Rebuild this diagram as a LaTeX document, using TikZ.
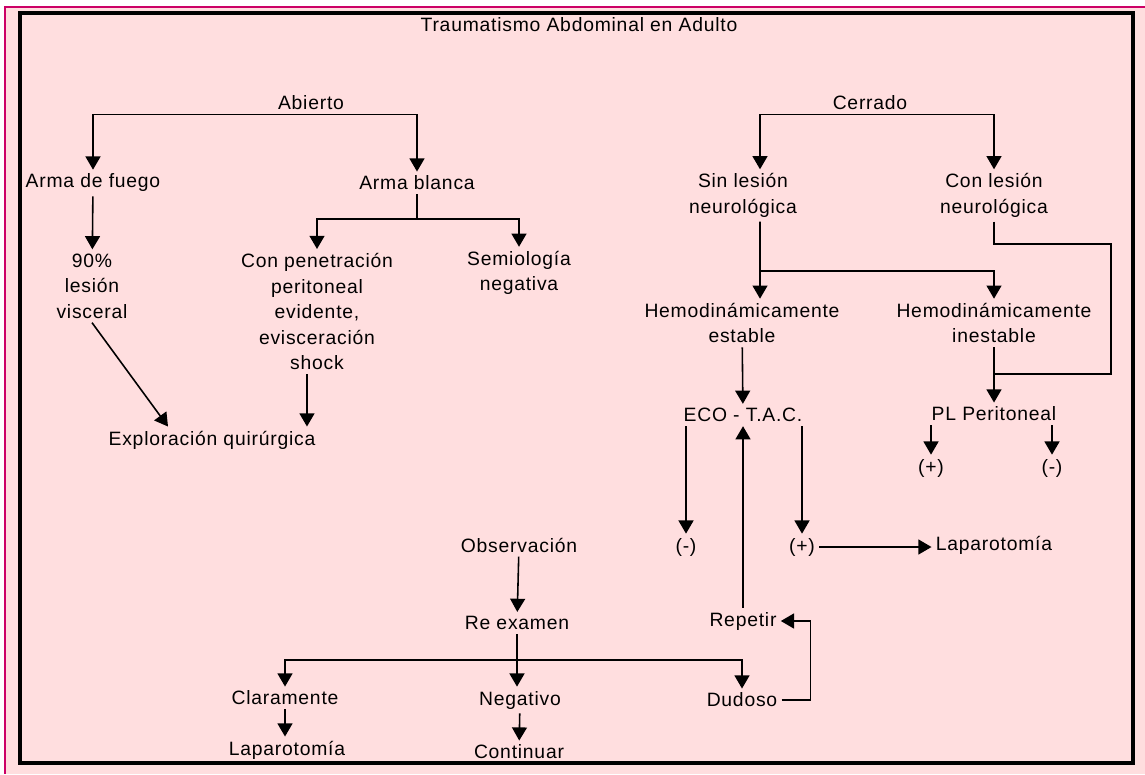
\documentclass[tikz,border=0pt]{standalone}
\usepackage{fontspec}
\setmainfont{Liberation Sans}[LetterSpace=4]
\usepackage{tikz}
\usetikzlibrary{arrows.meta}
\definecolor{bgpink}{RGB}{255,222,223}
\definecolor{edgemag}{RGB}{204,0,102}

\begin{document}
\begin{tikzpicture}[
    x=0.02cm, y=-0.02cm,
    lbl/.style={align=center, inner xsep=0.08cm, inner ysep=0.08cm,
                font=\fontsize{11}{14.5}\selectfont},
    arr/.style={-{Triangle[length=7.5pt, width=8.5pt]}, line width=0.9pt},
    link/.style={line width=0.9pt},
]
\useasboundingbox (0,0) rectangle (1145,774);

% Background and frame
\fill[white] (0,0) rectangle (1145,774);
\fill[bgpink] (5,7) rectangle (1145,774);
\draw[edgemag, line width=1.2pt] (1145,7) -- (5,7) -- (5,774);
\draw[line width=1.8pt] (20,13) rectangle (1133,763);

\node[lbl] (title) at (579,25) {Traumatismo Abdominal en Adulto};

% Abierto
\node[lbl] (abierto) at (311,103) {Abierto};
\node[lbl] (fuego) at (93,183) {Arma de fuego};
\node[lbl] (blanca) at (417,183) {Arma blanca};
\node[lbl] (visc) at (92,286) {90\%\\lesión\\visceral};
\node[lbl] (penet) at (317,311.5) {Con penetración\\peritoneal\\evidente,\\evisceración\\shock};
\node[lbl] (semio) at (519,273) {Semiología\\negativa};
\node[lbl] (expl) at (212,440) {Exploración quirúrgica};

% Cerrado
\node[lbl] (cerrado) at (870,103) {Cerrado};
\node[lbl] (sinles) at (743,195.5) {Sin lesión\\neurológica};
\node[lbl] (conles) at (994,195.5) {Con lesión\\neurológica};
\node[lbl] (estable) at (742,323) {Hemodinámicamente\\estable};
\node[lbl] (inest) at (994,323) {Hemodinámicamente\\inestable};
\node[lbl] (eco) at (743,415) {ECO - T.A.C.};
\node[lbl] (pl) at (994,414) {PL Peritoneal};
\node[lbl] (plusA) at (931,468) {(+)};
\node[lbl] (minusA) at (1052,468) {(-)};
\node[lbl] (minusB) at (686,547) {(-)};
\node[lbl] (plusB) at (802,547) {(+)};
\node[lbl] (lapR) at (994,545) {Laparotomía};
\node[lbl] (repetir) at (743,621) {Repetir};

% Observacion
\node[lbl] (obs) at (519,545) {Observación};
\node[lbl] (reex) at (517,623) {Re examen};
\node[lbl] (clar) at (285,698) {Claramente};
\node[lbl] (neg) at (520,700) {Negativo};
\node[lbl] (dud) at (742,700) {Dudoso};
\node[lbl] (lapL) at (287,750) {Laparotomía};
\node[lbl] (cont) at (519,752) {Continuar};

% Junctions
\coordinate (bj) at (417,219);
\coordinate (sj) at (760,271);
\coordinate (cr) at (1111,244);
\coordinate (cj) at (994,374);
\coordinate (rj) at (517,660);

% Arrows
\draw[arr] (abierto.south) -| (fuego.north);
\draw[arr] (abierto.south) -| (blanca.north);
\draw[arr] (fuego) -- (visc);
\draw[link] (blanca) -- (bj);
\draw[arr] (bj) -| (penet.north);
\draw[arr] (bj) -| (semio.north);
\draw[arr] (visc.south) -- ([xshift=-0.88cm]expl.north);
\draw[arr] ([xshift=-0.2cm]penet.south) -- ([xshift=1.9cm]expl.north);

\draw[arr] (cerrado.south) -| ([xshift=0.34cm]sinles.north);
\draw[arr] (cerrado.south) -| (conles.north);
\draw[link] ([xshift=0.34cm]sinles.south) -- (sj);
\draw[arr] (sj) -- (sj |- estable.north);
\draw[arr] (sj) -| (inest.north);
\draw[link] (conles.south) |- (cr) |- (cj);
\draw[arr] (inest) -- (pl);
\draw[arr] (pl.south -| plusA) -- (plusA);
\draw[arr] (pl.south -| minusA) -- (minusA);
\draw[arr] (estable) -- (eco);
\draw[arr] (eco.south -| minusB) -- (minusB);
\draw[arr] (eco.south -| plusB) -- (plusB);
\draw[arr] (plusB.east) -- (plusB.east -| lapR.west);
\draw[arr] (repetir) -- (eco);

\draw[arr] (obs) -- (reex);
\draw[arr] (reex.south) -- (reex.south |- neg.north);
\draw[arr] (rj) -| (clar.north);
\draw[arr] (rj) -| (dud.north);
\draw[arr] (clar.south) -- (clar.south |- lapL.north);
\draw[arr] (neg) -- (cont);
\draw[arr] (dud.east) -- ++(29,0) |- (repetir.east);

\end{tikzpicture}
\end{document}
